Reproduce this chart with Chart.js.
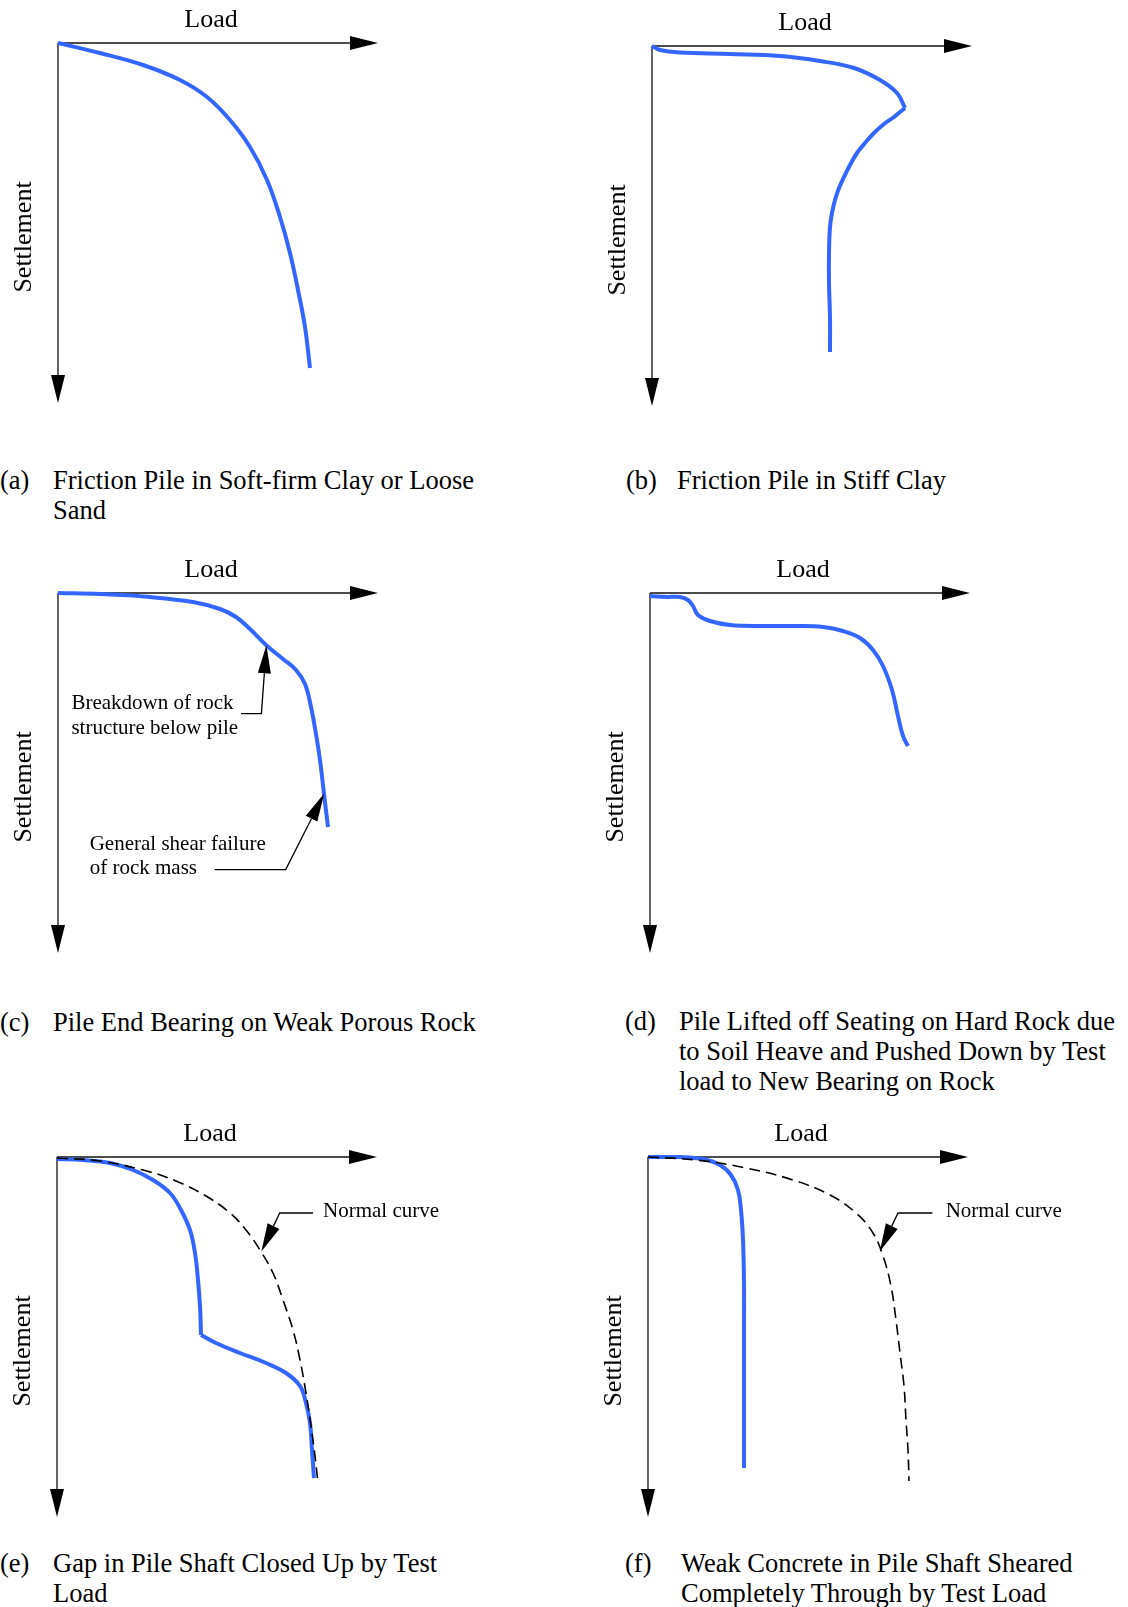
<!DOCTYPE html>
<html>
<head>
<meta charset="utf-8">
<script src="https://cdn.jsdelivr.net/npm/chart.js@4.4.1/dist/chart.umd.min.js"></script>
<style>
html,body{margin:0;padding:0;background:#fff;}
body{width:1128px;height:1607px;position:relative;overflow:hidden;font-family:'Liberation Serif','Times New Roman',serif;color:#000;}
canvas{position:absolute;}
.cap{position:absolute;font-family:'Liberation Serif','Times New Roman',serif;font-size:26.5px;line-height:30px;white-space:nowrap;}
</style>
</head>
<body>
<canvas id="ca"></canvas>
<canvas id="cb"></canvas>
<canvas id="cc"></canvas>
<canvas id="cd"></canvas>
<canvas id="ce"></canvas>
<canvas id="cf"></canvas>
<script>
// ---------------- DATA (load vs settlement) ----------------
const axisLabels = { load: 'Load', settlement: 'Settlement' };
const loadMax = 320;     // load axis extent
const settleMax = 360;   // settlement axis extent

// (a) Friction pile in soft-firm clay or loose sand
const loadA   = [0, 42, 85, 122, 149, 172, 192, 209, 222, 232, 240, 247, 252];
const settleA = [0, 10, 22, 37, 54, 77, 104, 137, 174, 210, 247, 284, 325];

// (b) Friction pile in stiff clay (loading branch to peak, then post-peak branch)
const loadB1   = [0, 8, 28, 78, 128, 168, 202, 228, 245, 253];
const settleB1 = [0, 4, 6.5, 8, 10, 15, 22, 34, 47, 62];
const loadB2   = [253, 248, 242, 232, 222, 213, 205, 198, 192, 187, 183, 180, 178, 177, 177, 178, 178];
const settleB2 = [62, 66, 71, 78, 87, 97, 107, 119, 131, 142, 154, 167, 181, 207, 237, 271, 306];

// (c) Pile end bearing on weak porous rock
const loadC   = [0, 42, 92, 135, 162, 178, 192, 208, 225, 238, 247, 253, 258, 262, 266, 270];
const settleC = [0, 1, 4, 9, 16, 24, 36, 52, 66, 77, 91, 114, 141, 167, 201, 234];

// (d) Pile lifted off seating on hard rock
const loadD   = [0, 17, 30, 38, 43, 48, 60, 80, 113, 147, 173, 193, 210, 223, 233, 242, 248, 253, 258];
const settleD = [3, 4, 4, 7, 13, 22, 28, 32, 33, 33, 34, 38, 45, 57, 73, 97, 123, 143, 153];

// (e) Gap in pile shaft closed up by test load
const loadE1   = [0, 26, 53, 76, 96, 113, 124, 133, 138, 141, 143, 144];
const settleE1 = [2, 3, 6, 13, 23, 36, 53, 73, 96, 123, 149, 178];
const loadE2   = [144, 159, 183, 209, 229, 243, 249, 253, 255, 257];
const settleE2 = [178, 186, 196, 206, 216, 229, 246, 266, 293, 321];
const loadEN   = [0, 43, 86, 119, 149, 173, 189, 203, 216, 226, 236, 243, 249, 254, 258, 261];
const settleEN = [1, 4, 13, 24, 39, 56, 73, 93, 116, 143, 173, 203, 236, 269, 299, 326];

// (f) Weak concrete in pile shaft sheared through
const loadF    = [0, 32, 55, 72, 83, 90, 93, 95, 96, 96, 96, 96];
const settleF  = [0, 0, 2, 8, 18, 33, 53, 83, 126, 176, 243, 311];
const loadFN   = [0, 48, 98, 145, 182, 208, 225, 235, 243, 248, 252, 256, 258, 260, 261];
const settleFN = [0, 3, 11, 23, 38, 56, 76, 99, 129, 163, 196, 229, 263, 293, 324];

// captions
const captionTags = ['(a)', '(b)', '(c)', '(d)', '(e)', '(f)'];
const captionTexts = [
  ['Friction Pile in Soft-firm Clay or Loose', 'Sand'],
  ['Friction Pile in Stiff Clay'],
  ['Pile End Bearing on Weak Porous Rock'],
  ['Pile Lifted off Seating on Hard Rock due', 'to Soil Heave and Pushed Down by Test', 'load to New Bearing on Rock'],
  ['Gap in Pile Shaft Closed Up by Test', 'Load'],
  ['Weak Concrete in Pile Shaft Sheared', 'Completely Through by Test Load']
];
const noteBreakdown = ['Breakdown of rock', 'structure below pile'];
const noteShear = ['General shear failure', 'of rock mass'];
const noteNormal = ['Normal curve'];

// ---------------- LAYOUT / STYLE ----------------
const FONT = '"Liberation Serif", "Times New Roman", serif';
const BLUE = '#3366ff';
const CW = 530, CH = 410, PADL = 58, PADT = 43;

const panels = [
  { id: 'ca', ox: 58,  oy: 43 },
  { id: 'cb', ox: 652, oy: 46 },
  { id: 'cc', ox: 58,  oy: 593 },
  { id: 'cd', ox: 650, oy: 593 },
  { id: 'ce', ox: 57,  oy: 1157 },
  { id: 'cf', ox: 648, oy: 1157 }
];
const captionPos = [
  { tx: 0,   x: 53,  top: 465 },
  { tx: 626, x: 677, top: 465 },
  { tx: 0,   x: 53,  top: 1007 },
  { tx: 625, x: 679, top: 1006 },
  { tx: 0,   x: 53,  top: 1548 },
  { tx: 625, x: 681, top: 1548 }
];

function pts(xs, ys) { return xs.map((v, i) => ({ x: v, y: ys[i] })); }
function solid(xs, ys) {
  return { data: pts(xs, ys), borderColor: BLUE, borderWidth: 4, tension: 0.4,
           pointRadius: 0, fill: false, clip: false, borderCapStyle: 'butt', borderJoinStyle: 'miter' };
}
function dashed(xs, ys) {
  return { data: pts(xs, ys), borderColor: '#000', borderWidth: 1.6, tension: 0.4,
           borderDash: [11, 6], pointRadius: 0, fill: false, clip: false };
}

function head(ctx, fx, fy, tx, ty, len, hw) {
  const a = Math.atan2(ty - fy, tx - fx);
  const bx = tx - len * Math.cos(a), by = ty - len * Math.sin(a);
  const px = -Math.sin(a) * hw, py = Math.cos(a) * hw;
  ctx.beginPath();
  ctx.moveTo(tx, ty);
  ctx.lineTo(bx + px, by + py);
  ctx.lineTo(bx - px, by - py);
  ctx.closePath();
  ctx.fill();
  return [bx, by];
}

const axesPlugin = {
  id: 'pileAxes',
  beforeDatasetsDraw(chart) {
    const { ctx } = chart; const x = chart.scales.x, y = chart.scales.y;
    const x0 = x.getPixelForValue(0), y0 = y.getPixelForValue(0);
    const x1 = x.getPixelForValue(loadMax), y1 = y.getPixelForValue(settleMax);
    ctx.save();
    ctx.strokeStyle = '#111'; ctx.fillStyle = '#000'; ctx.lineWidth = 1.3;
    ctx.beginPath(); ctx.moveTo(x0, y0); ctx.lineTo(x1 - 20, y0); ctx.stroke();
    ctx.beginPath(); ctx.moveTo(x0, y0); ctx.lineTo(x0, y1 - 20); ctx.stroke();
    head(ctx, x0, y0, x1, y0, 28, 7);
    head(ctx, x0, y0, x0, y1, 28, 7);
    ctx.font = '26px ' + FONT; ctx.textAlign = 'center'; ctx.textBaseline = 'alphabetic';
    ctx.fillText(axisLabels.load, x0 + 153, y0 - 16);
    ctx.translate(x0 - 27, y0 + 194); ctx.rotate(-Math.PI / 2);
    ctx.fillText(axisLabels.settlement, 0, 0);
    ctx.restore();
  },
  afterDatasetsDraw(chart) {
    const notes = (chart.options.plugins.pileNotes || {}).notes || [];
    const { ctx } = chart; const x = chart.scales.x, y = chart.scales.y;
    ctx.save();
    ctx.strokeStyle = '#000'; ctx.fillStyle = '#000'; ctx.lineWidth = 1.3;
    notes.forEach(n => {
      const P = n.path.map(p => [x.getPixelForValue(p[0]), y.getPixelForValue(p[1])]);
      const tip = P[P.length - 1], prev = P[P.length - 2];
      const base = head(ctx, prev[0], prev[1], tip[0], tip[1], 28, 6.5);
      ctx.beginPath(); ctx.moveTo(P[0][0], P[0][1]);
      for (let i = 1; i < P.length - 1; i++) ctx.lineTo(P[i][0], P[i][1]);
      ctx.lineTo(base[0], base[1]); ctx.stroke();
      ctx.font = '21px ' + FONT; ctx.textAlign = 'left'; ctx.textBaseline = 'alphabetic';
      n.text.forEach((t, i) => ctx.fillText(t, x.getPixelForValue(n.tx), y.getPixelForValue(n.ty) + i * n.lh));
    });
    ctx.restore();
  }
};

const panelData = [
  { sets: [solid(loadA, settleA)], notes: [] },
  { sets: [solid(loadB1, settleB1), solid(loadB2, settleB2)], notes: [] },
  { sets: [solid(loadC, settleC)], notes: [
      { text: noteBreakdown, tx: 13.4, ty: 115.5, lh: 25, path: [[183, 120.6], [203.4, 120.6], [208.4, 52.3]] },
      { text: noteShear, tx: 31.7, ty: 257.3, lh: 24, path: [[156.7, 276.6], [227.7, 276.6], [266.2, 200.6]] } ] },
  { sets: [solid(loadD, settleD)], notes: [] },
  { sets: [dashed(loadEN, settleEN), solid(loadE1, settleE1), solid(loadE2, settleE2)], notes: [
      { text: noteNormal, tx: 266, ty: 59.7, lh: 24, path: [[256, 56], [222.7, 56], [204.4, 94.4]] } ] },
  { sets: [dashed(loadFN, settleFN), solid(loadF, settleF)], notes: [
      { text: noteNormal, tx: 297.7, ty: 59.7, lh: 24, path: [[284.4, 56], [250, 56], [231.7, 94.4]] } ] }
];

panels.forEach((p, i) => {
  const cv = document.getElementById(p.id);
  cv.width = CW; cv.height = CH;
  cv.style.width = CW + 'px'; cv.style.height = CH + 'px';
  cv.style.left = (p.ox - PADL) + 'px'; cv.style.top = (p.oy - PADT) + 'px';
  new Chart(cv, {
    type: 'line',
    data: { datasets: panelData[i].sets },
    options: {
      responsive: false, animation: false, devicePixelRatio: 1,
      layout: { padding: { left: PADL, top: PADT, right: CW - PADL - loadMax, bottom: CH - PADT - settleMax } },
      scales: {
        x: { type: 'linear', min: 0, max: loadMax, display: false },
        y: { type: 'linear', min: 0, max: settleMax, reverse: true, display: false }
      },
      plugins: { legend: { display: false }, tooltip: { enabled: false }, pileNotes: { notes: panelData[i].notes } },
      events: []
    },
    plugins: [axesPlugin]
  });
});

// captions as HTML text
captionPos.forEach((c, i) => {
  const t = document.createElement('div');
  t.className = 'cap'; t.style.left = c.tx + 'px'; t.style.top = c.top + 'px';
  t.textContent = captionTags[i];
  document.body.appendChild(t);
  const d = document.createElement('div');
  d.className = 'cap'; d.style.left = c.x + 'px'; d.style.top = c.top + 'px';
  d.innerHTML = captionTexts[i].join('<br>');
  document.body.appendChild(d);
});
</script>
</body>
</html>
